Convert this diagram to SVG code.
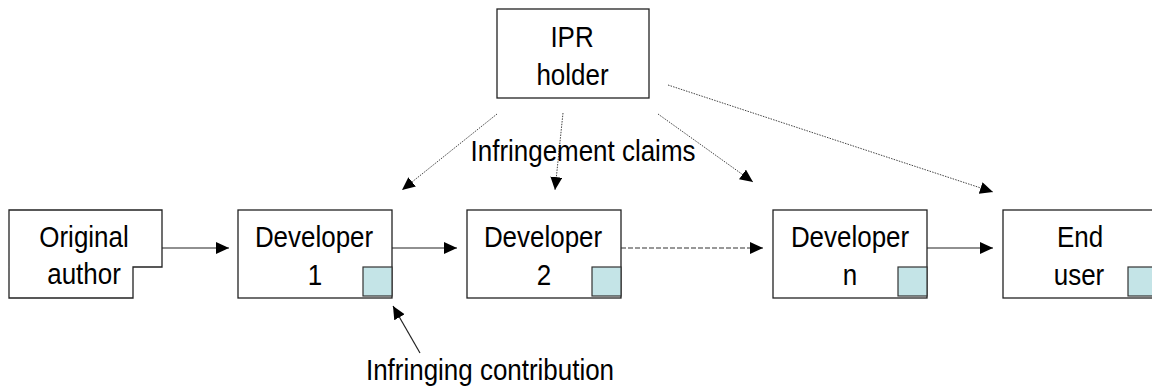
<svg xmlns="http://www.w3.org/2000/svg" width="1152" height="389" viewBox="0 0 1152 389">
<style>
.box{fill:#fff;stroke:#222;stroke-width:1.3}
.sq{fill:#c4e4e7;stroke:#333;stroke-width:1.2}
.t{font-family:"Liberation Sans",Arial,sans-serif;font-size:29.5px;fill:#000;text-anchor:middle}
.solid{stroke:#222;stroke-width:1.2;fill:none}
.dash{stroke:#333;stroke-width:1.2;fill:none;stroke-dasharray:5 2}
.dot{stroke:#444;stroke-width:1;fill:none;stroke-dasharray:1.5 1.2}
</style>
<defs>
<marker id="ah" markerUnits="userSpaceOnUse" markerWidth="14" markerHeight="13" refX="13" refY="6" orient="auto">
<path d="M0,0 L13,6 L0,12 z" fill="#000"/>
</marker>
</defs>
<rect width="1152" height="389" fill="#fff"/>
<g id="original-author">
<path class="box" d="M9,210 H162 V267 H133 V298 H9 Z"/>
<text class="t" transform="translate(84 247) scale(0.88 1)">Original</text>
<text class="t" transform="translate(84 284) scale(0.88 1)">author</text>
</g>
<g id="developer-1">
<rect class="box" x="238" y="210" width="154" height="88"/>
<rect class="sq" x="363" y="267" width="29" height="29"/>
<text class="t" transform="translate(314 247) scale(0.88 1)">Developer</text>
<text class="t" transform="translate(315 285) scale(0.88 1)">1</text>
</g>
<g id="developer-2">
<rect class="box" x="467" y="210" width="154" height="88"/>
<rect class="sq" x="592" y="267" width="29" height="29"/>
<text class="t" transform="translate(543 247) scale(0.88 1)">Developer</text>
<text class="t" transform="translate(544 285) scale(0.88 1)">2</text>
</g>
<g id="developer-n">
<rect class="box" x="773" y="210" width="154" height="88"/>
<rect class="sq" x="898" y="267" width="29" height="29"/>
<text class="t" transform="translate(850 247) scale(0.88 1)">Developer</text>
<text class="t" transform="translate(850 285) scale(0.88 1)">n</text>
</g>
<g id="end-user">
<rect class="box" x="1003" y="210" width="154" height="88"/>
<rect class="sq" x="1128" y="267" width="29" height="29"/>
<text class="t" transform="translate(1080 247) scale(0.88 1)">End</text>
<text class="t" transform="translate(1079 285) scale(0.88 1)">user</text>
</g>
<g id="ipr-holder">
<rect class="box" x="497" y="9" width="152" height="89"/>
<text class="t" transform="translate(572 47) scale(0.88 1)">IPR</text>
<text class="t" transform="translate(572.5 85) scale(0.88 1)">holder</text>
</g>
<g id="connectors">
<line class="solid" x1="162" y1="248" x2="229" y2="248" marker-end="url(#ah)"/>
<line class="solid" x1="392" y1="248" x2="457" y2="248" marker-end="url(#ah)"/>
<line class="dash" x1="621" y1="248" x2="763" y2="248" marker-end="url(#ah)"/>
<line class="solid" x1="927" y1="248" x2="993" y2="248" marker-end="url(#ah)"/>
<line class="dot" x1="497" y1="114" x2="402" y2="190" marker-end="url(#ah)"/>
<line class="dot" x1="563" y1="113" x2="555" y2="190" marker-end="url(#ah)"/>
<line class="dot" x1="658" y1="114" x2="753" y2="182" marker-end="url(#ah)"/>
<line class="dot" x1="668" y1="85" x2="993" y2="192" marker-end="url(#ah)"/>
<line class="solid" x1="420" y1="353" x2="393" y2="306" marker-end="url(#ah)"/>
</g>
<g id="labels">
<text class="t" transform="translate(583 161) scale(0.88 1)">Infringement claims</text>
<text class="t" transform="translate(490 380) scale(0.88 1)">Infringing contribution</text>
</g>
</svg>
